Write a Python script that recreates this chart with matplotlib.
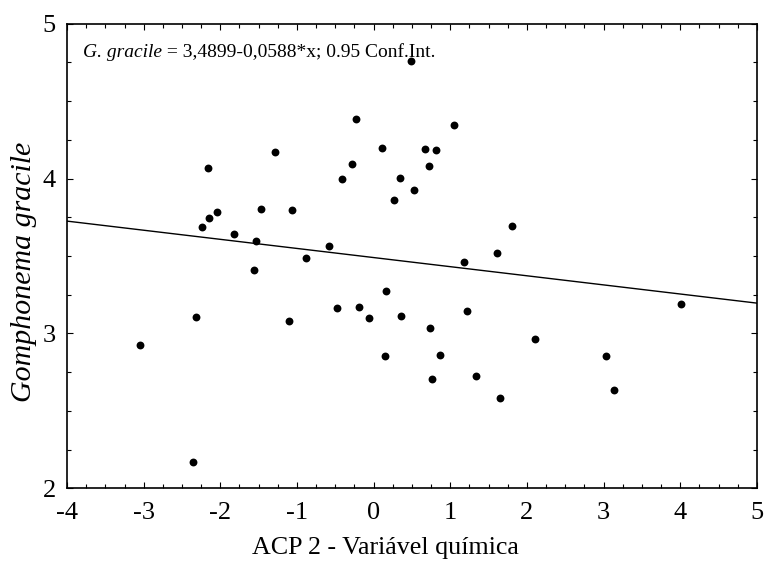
import numpy as np
import matplotlib
matplotlib.use("Agg")
import matplotlib.pyplot as plt
from matplotlib.ticker import MultipleLocator

# ACP 2 scores (x) and G. gracile values (y)
acp2 = [
    -0.227, 0.113, -0.279, -1.283, -2.161, -0.413, 0.347, 0.269, -1.474, -1.061,
    -2.040, -2.148, -2.235, -1.822, -1.531, -0.579, -0.883, -1.561, 0.161, -0.478,
    -0.191, -0.061, 0.352, -2.313, -1.109, -3.052, 0.152, 1.048, 0.665, 0.809,
    0.717, 0.530, 1.808, 1.613, 1.174, 1.221, 0.739, 4.008, 2.108, 0.861,
    3.034, 0.766, 1.330, 3.137, 1.654, -2.357, 0.483,
]
gracile = [
    4.386, 4.197, 4.092, 4.173, 4.070, 3.999, 4.005, 3.861, 3.801, 3.795,
    3.784, 3.747, 3.689, 3.642, 3.597, 3.565, 3.485, 3.412, 3.274, 3.162,
    3.169, 3.100, 3.111, 3.104, 3.083, 2.926, 2.853, 4.343, 4.192, 4.184,
    4.083, 3.926, 3.692, 3.517, 3.463, 3.143, 3.037, 3.192, 2.965, 2.863,
    2.855, 2.705, 2.728, 2.634, 2.586, 2.173, 4.760,
]

intercept = 3.4899
slope = -0.0588
x_range = [-4, 5]
y_range = [2, 5]

plt.rcParams["font.family"] = ["Liberation Serif", "DejaVu Serif"]
plt.rcParams["axes.unicode_minus"] = False

fig = plt.figure(figsize=(7.64, 5.68), dpi=100)
ax = fig.add_axes([0.0877, 0.14, 0.9031, 0.8186])

ax.scatter(acp2, gracile, s=32, color="black", zorder=3, linewidths=0)

xs = np.array(x_range, dtype=float)
ax.plot(xs, intercept + slope * xs, color="black", lw=1.0)

ax.set_xlim(*x_range)
ax.set_ylim(*y_range)
ax.xaxis.set_major_locator(MultipleLocator(1))
ax.xaxis.set_minor_locator(MultipleLocator(0.25))
ax.yaxis.set_major_locator(MultipleLocator(1))
ax.yaxis.set_minor_locator(MultipleLocator(0.25))
ax.tick_params(which="both", direction="in", top=True, right=True,
               width=0.8, labelsize=19)
ax.tick_params(which="major", length=4)
ax.tick_params(which="minor", length=3)
ax.tick_params(axis="x", which="major", pad=10)
ax.tick_params(axis="y", which="major", pad=8)
for s in ax.spines.values():
    s.set_linewidth(1.2)

ax.set_xlabel("ACP 2 - Variável química", fontsize=18.7)
ax.xaxis.set_label_coords(0.462, -0.105)
ax.set_ylabel("Gomphonema gracile", fontsize=21.5, style="italic")
ax.yaxis.set_label_coords(-0.043, 0.466)

t1 = ax.text(0.023, 0.938, "G. gracile", style="italic",
             transform=ax.transAxes, fontsize=14, va="center", ha="left")
ax.annotate(" = 3,4899-0,0588*x; 0.95 Conf.Int.", xy=(1, 0), xycoords=t1,
            fontsize=14, va="bottom", ha="left")

fig.savefig("out.png", dpi=100)
